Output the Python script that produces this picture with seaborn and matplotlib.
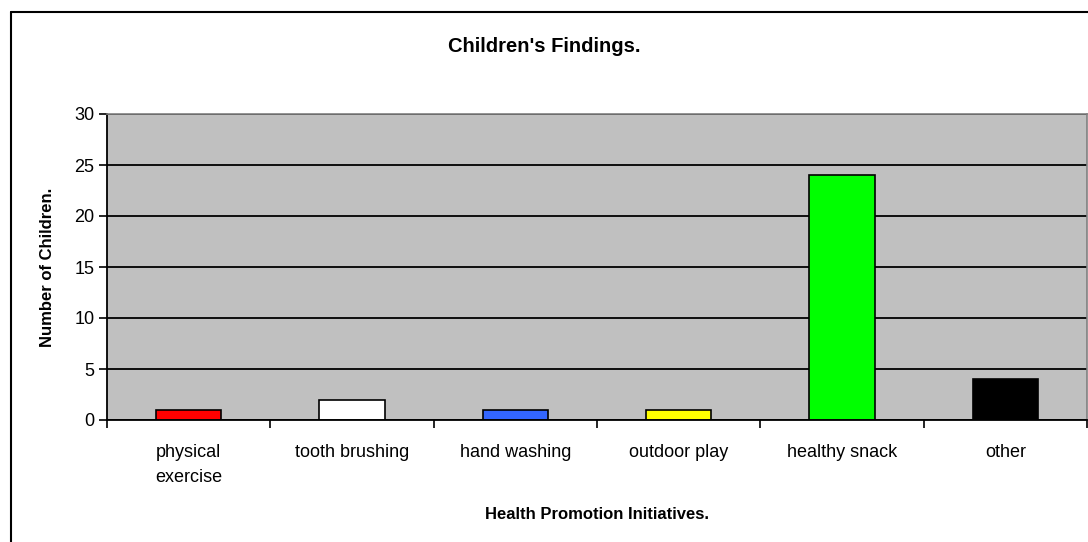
import matplotlib
matplotlib.use("Agg")
import matplotlib.pyplot as plt
import seaborn as sns
import numpy as np
from matplotlib.lines import Line2D

# Data
categories = ["physical\nexercise", "tooth brushing", "hand washing",
              "outdoor play", "healthy snack", "other"]
counts = [1, 2, 1, 1, 24, 4]
bar_colors = ["#FF0000", "#FFFFFF", "#3366FF", "#FFFF00", "#00FF00", "#000000"]

sns.set_theme(style="white")
plt.rcParams['font.family'] = ['Liberation Sans', 'DejaVu Sans']
plt.rcParams.update({'text.color': 'black', 'axes.labelcolor': 'black',
                     'xtick.color': 'black', 'ytick.color': 'black'})

fig = plt.figure(figsize=(10.88, 5.42), dpi=100)
ax = fig.add_axes([107 / 1088, 1 - 420 / 542, 980 / 1088, 306 / 542])
ax.set_facecolor("#C0C0C0")

sns.barplot(x=categories, y=counts, hue=categories, palette=bar_colors,
            legend=False, width=0.4, edgecolor="black", linewidth=1.2,
            saturation=1, ax=ax)

ax.set_xlim(-0.5, len(categories) - 0.5)
ax.set_ylim(0, 30)
ax.set_yticks(range(0, 31, 5))
ax.yaxis.grid(True, color="black", linewidth=1.3)
ax.set_axisbelow(True)

# category boundary ticks on x axis
ax.set_xticks(np.arange(-0.5, len(categories) + 0.5, 1), minor=True)
ax.tick_params(axis="x", which="major", length=0, pad=17, labelsize=13)
ax.tick_params(axis="x", which="minor", length=6, width=1.2, color="black",
               direction="out", bottom=True)
ax.tick_params(axis="y", length=6, width=1.2, color="black", direction="out",
               left=True, labelsize=13, pad=3)
for lbl in ax.get_xticklabels():
    lbl.set_linespacing(1.65)

for side in ["top", "right"]:
    ax.spines[side].set_color("#808080")
    ax.spines[side].set_linewidth(1.2)
for side in ["left", "bottom"]:
    ax.spines[side].set_color("black")
    ax.spines[side].set_linewidth(1.3)

ax.set_xlabel("Health Promotion Initiatives.", fontsize=12,
              fontweight="bold", labelpad=15)
ax.set_ylabel("Number of Children.", fontsize=12, fontweight="bold",
              labelpad=14)
fig.text(0.5, 1 - 47 / 542, "Children's Findings.", ha="center",
         va="center", fontsize=14.5, fontweight="bold")

# outer chart border
fig.add_artist(Line2D([11 / 1088, 11 / 1088], [0, 1 - 12 / 542],
                      transform=fig.transFigure, color="black", linewidth=1.5))
fig.add_artist(Line2D([11 / 1088, 1], [1 - 12 / 542, 1 - 12 / 542],
                      transform=fig.transFigure, color="black", linewidth=1.5))

fig.savefig("out.png", dpi=100)
